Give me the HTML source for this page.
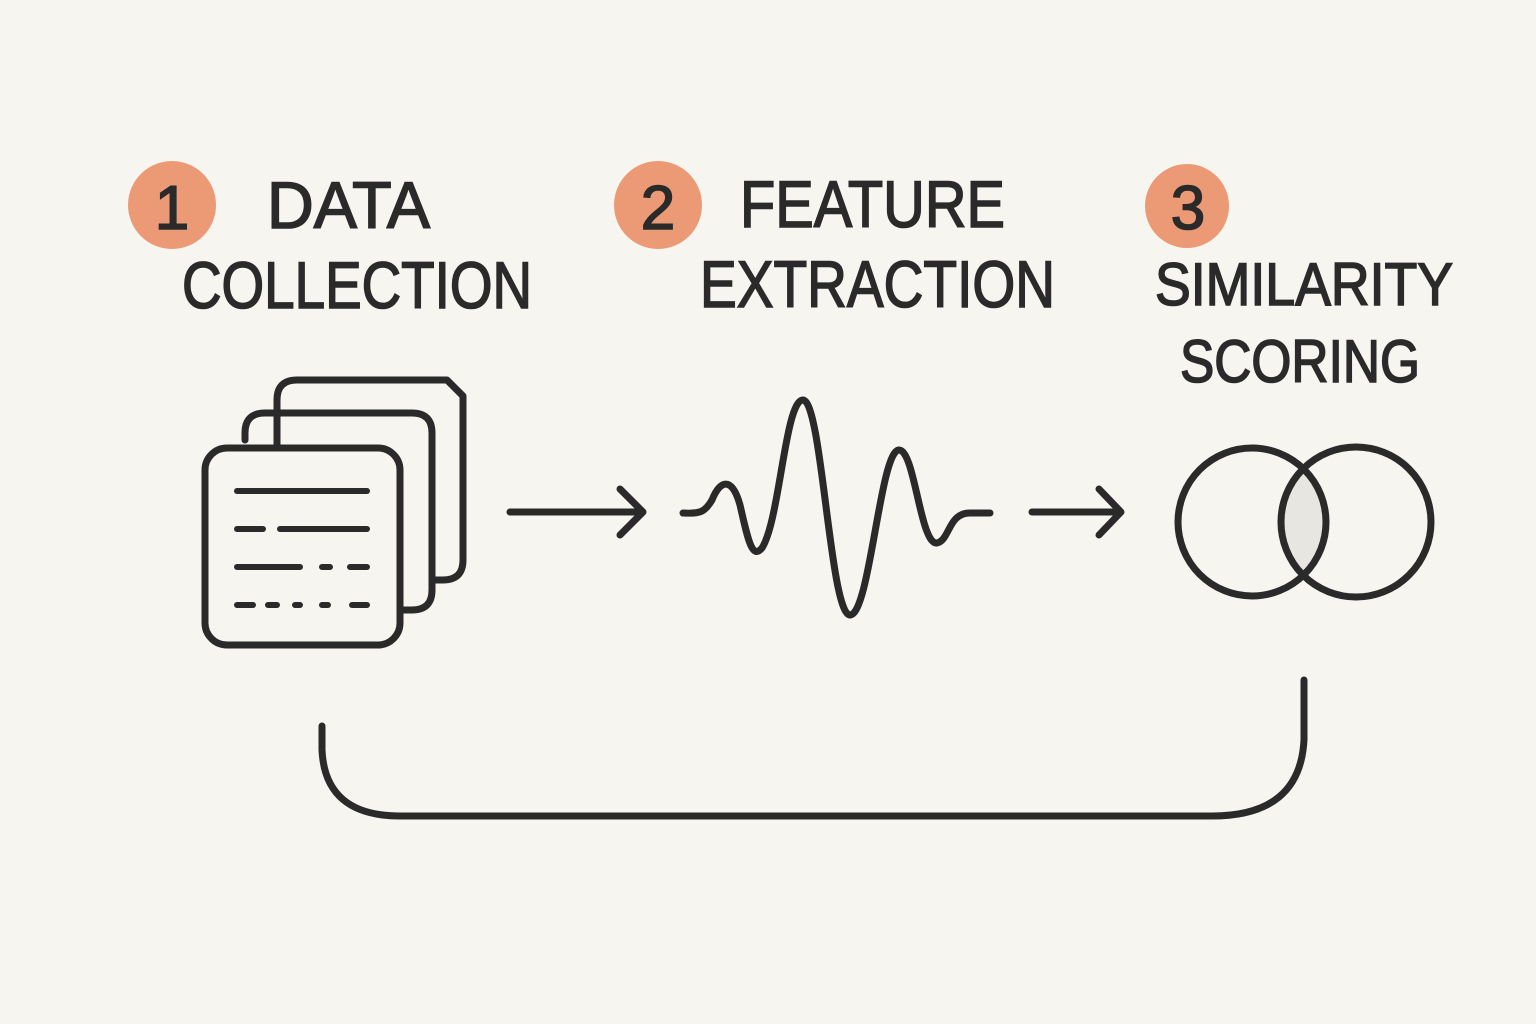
<!DOCTYPE html>
<html><head><meta charset="utf-8"><style>
html,body{margin:0;padding:0;background:#f7f5f0;}
svg{display:block}
</style></head><body>
<svg width="1536" height="1024" viewBox="0 0 1536 1024" xmlns="http://www.w3.org/2000/svg">
<rect width="1536" height="1024" fill="#f7f5f0"/>
<g fill="#ec9a76">
<circle cx="172" cy="205" r="44"/>
<circle cx="658" cy="205" r="44"/>
<circle cx="1187" cy="206" r="42"/>
</g>
<g font-family="Liberation Sans, sans-serif" fill="#2a2a2a" stroke="#2a2a2a" stroke-width="1.6" font-size="66">
<text x="172" y="229" text-anchor="middle" font-size="62">1</text>
<text x="658" y="229" text-anchor="middle" font-size="62">2</text>
<text x="1188" y="229" text-anchor="middle" font-size="62">3</text>
<text x="267" y="228" textLength="163" lengthAdjust="spacingAndGlyphs">DATA</text>
<text x="182" y="308" textLength="350" lengthAdjust="spacingAndGlyphs">COLLECTION</text>
<text x="740" y="227" textLength="265" lengthAdjust="spacingAndGlyphs">FEATURE</text>
<text x="700" y="307" textLength="355" lengthAdjust="spacingAndGlyphs">EXTRACTION</text>
<text x="1155" y="305" textLength="298" lengthAdjust="spacingAndGlyphs" font-size="60">SIMILARITY</text>
<text x="1180" y="382" textLength="240" lengthAdjust="spacingAndGlyphs" font-size="60">SCORING</text>
</g>
<g fill="none" stroke="#2a2a2a" stroke-width="7" stroke-linecap="round" stroke-linejoin="round">
<path d="M277 580 L277 400 Q277 380 297 380 L447 380 L463 396 L463 560 Q463 580 443 580 L432 580"/>
<path d="M245 440 L245 433 Q245 413 265 413 L412 413 Q432 413 432 433 L432 590 Q432 610 412 610 L400 610"/>
<rect x="205" y="448" width="195" height="197" rx="22" fill="#f7f5f0"/>
<g stroke-width="6">
<path d="M237 491 H367"/>
<path d="M237 529 H263 M280 529 H367"/>
<path d="M237 567 H300 M322 567 H330 M350 567 H367"/>
<path d="M237 605 H253 M268 605 H277 M295 605 H300 M322 605 H328 M352 605 H367"/>
</g>
<path d="M510 512 H643 M620 489 L643 512 L620 535"/>
<path d="M1032 512 H1120 M1099 489 L1121 512 L1099 535"/>
<path d="M683 513 C700 514 705 512 712 500 C720 480 732 476 740 505 C748 540 752 560 762 548 C780 520 785 400 803 400 C822 400 830 615 850 615 C870 615 880 450 899 450 C915 450 920 545 937 543 C950 540 948 513 970 513 L990 513"/>
<path d="M1303 469 A74 74 0 0 1 1303 575 A75 75 0 0 1 1303 469 Z" fill="#e8e6e1" stroke="none"/>
<circle cx="1252" cy="522" r="74"/>
<circle cx="1356" cy="522" r="75"/>
<path d="M322 726 L322 750 Q325 816 400 816 L1212 816 Q1300 816 1304 740 L1304 680"/>
</g>
</svg>
</body></html>
